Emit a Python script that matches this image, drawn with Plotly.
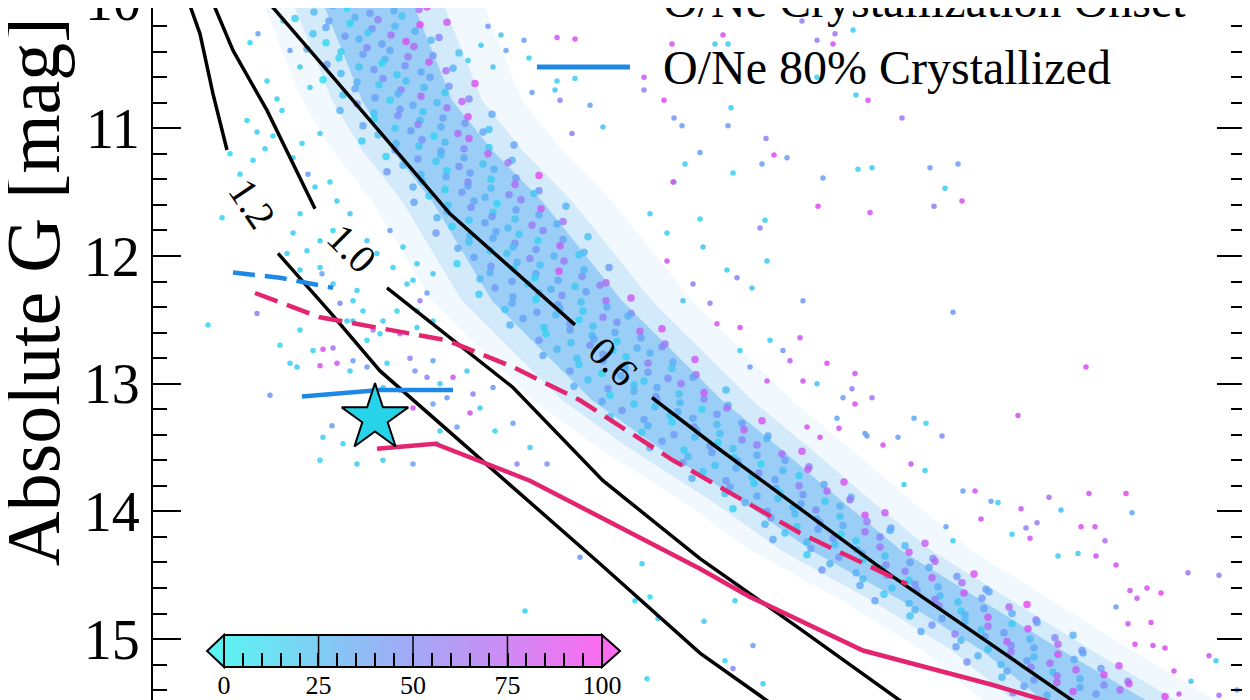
import plotly.graph_objects as go

# Gaia white dwarfs: BP-RP colour vs absolute G, coloured by crystallized fraction (%)
# dense part of the sequence
band_x = [
    -0.061, -0.029, -0.006, 0.017, 0.041, 0.065,
    -0.048, -0.015, 0.008, 0.032, 0.057,
    -0.067, -0.033, -0.007, 0.016, 0.040, 0.085,
    -0.036, -0.012, 0.010, 0.033, 0.058,
    -0.049, -0.017, 0.006, 0.029, 0.053, 0.077,
    -0.036, -0.003, 0.020, 0.044, 0.069,
    -0.055, -0.021, 0.005, 0.028, 0.052, 0.097,
    -0.023, 0.001, 0.023, 0.046, 0.071,
    -0.035, -0.003, 0.020, 0.043, 0.067, 0.091,
    -0.021, 0.012, 0.035, 0.059, 0.084,
    -0.039, -0.005, 0.021, 0.044, 0.068, 0.113,
    -0.007, 0.017, 0.039, 0.062, 0.087,
    -0.019, 0.013, 0.036, 0.059, 0.083, 0.107,
    -0.005, 0.028, 0.051, 0.075, 0.100,
    -0.022, 0.012, 0.038, 0.061, 0.085, 0.130,
    0.012, 0.036, 0.058, 0.081, 0.106,
    0.001, 0.033, 0.056, 0.079, 0.103, 0.127,
    0.016, 0.049, 0.072, 0.096, 0.121,
    0.000, 0.034, 0.060, 0.083, 0.107, 0.152,
    0.033, 0.057, 0.079, 0.102, 0.127,
    0.024, 0.056, 0.079, 0.102, 0.126, 0.150,
    0.041, 0.074, 0.097, 0.121, 0.146,
    0.025, 0.059, 0.085, 0.108, 0.132, 0.177,
    0.060, 0.084, 0.106, 0.129, 0.154,
    0.051, 0.083, 0.106, 0.129, 0.153, 0.177,
    0.067, 0.100, 0.123, 0.147, 0.172,
    0.052, 0.086, 0.112, 0.135, 0.159, 0.204,
    0.085, 0.109, 0.131, 0.154, 0.179,
    0.075, 0.107, 0.130, 0.153, 0.177, 0.201,
    0.090, 0.123, 0.146, 0.170, 0.195,
    0.074, 0.108, 0.134, 0.157, 0.181, 0.226,
    0.107, 0.131, 0.153, 0.176, 0.201,
    0.096, 0.128, 0.151, 0.174, 0.198, 0.222,
    0.112, 0.145, 0.168, 0.192, 0.217,
    0.095, 0.129, 0.155, 0.178, 0.202, 0.247,
    0.128, 0.152, 0.174, 0.197, 0.222,
    0.118, 0.150, 0.173, 0.196, 0.220, 0.244,
    0.133, 0.166, 0.189, 0.213, 0.238,
    0.117, 0.151, 0.177, 0.200, 0.224, 0.269,
    0.150, 0.174, 0.196, 0.219, 0.244,
    0.143, 0.175, 0.198, 0.221, 0.245, 0.269,
    0.161, 0.194, 0.217, 0.241, 0.266,
    0.148, 0.182, 0.208, 0.231, 0.255, 0.300,
    0.184, 0.208, 0.230, 0.253, 0.278,
    0.177, 0.209, 0.232, 0.255, 0.279, 0.303,
    0.195, 0.228, 0.251, 0.275, 0.300,
    0.181, 0.215, 0.241, 0.264, 0.288, 0.333,
    0.217, 0.241, 0.263, 0.286, 0.311,
    0.208, 0.240, 0.263, 0.286, 0.310, 0.334,
    0.226, 0.259, 0.282, 0.306, 0.331,
    0.212, 0.246, 0.272, 0.295, 0.319, 0.364,
    0.248, 0.272, 0.294, 0.317, 0.342,
    0.240, 0.272, 0.295, 0.318, 0.342, 0.366,
    0.260, 0.293, 0.316, 0.340, 0.365,
    0.248, 0.282, 0.308, 0.331, 0.355, 0.400,
    0.286, 0.310, 0.332, 0.355, 0.380,
    0.280, 0.312, 0.335, 0.358, 0.382, 0.406,
    0.300, 0.333, 0.356, 0.380, 0.405,
    0.288, 0.322, 0.348, 0.371, 0.395, 0.440,
    0.326, 0.350, 0.372, 0.395, 0.420,
    0.321, 0.353, 0.376, 0.399, 0.423, 0.447,
    0.341, 0.374, 0.397, 0.421, 0.446,
    0.330, 0.364, 0.390, 0.413, 0.437, 0.482,
    0.368, 0.392, 0.414, 0.437, 0.462,
    0.363, 0.395, 0.418, 0.441, 0.465, 0.489,
    0.383, 0.416, 0.439, 0.463, 0.488,
    0.371, 0.405, 0.431, 0.454, 0.478, 0.523,
    0.409, 0.433, 0.455, 0.478, 0.503,
    0.403, 0.435, 0.458, 0.481, 0.505, 0.529,
    0.423, 0.456, 0.479, 0.503, 0.528,
    0.411, 0.445, 0.471, 0.494, 0.518, 0.563,
    0.449, 0.473, 0.495, 0.518, 0.543,
    0.445, 0.477, 0.500, 0.523, 0.547, 0.571,
    0.468, 0.501, 0.524, 0.548, 0.573,
    0.460, 0.494, 0.520, 0.543, 0.567, 0.612,
    0.501, 0.525, 0.547, 0.570, 0.595,
    0.498, 0.530, 0.553, 0.576, 0.600, 0.624,
    0.522, 0.555, 0.578, 0.602, 0.627,
    0.513, 0.547, 0.573, 0.596, 0.620, 0.665,
    0.553, 0.577, 0.599, 0.622, 0.647,
    0.548, 0.580, 0.603, 0.626, 0.650, 0.674,
    0.570, 0.603, 0.626, 0.650, 0.675,
    0.559, 0.593, 0.619, 0.642, 0.666, 0.711,
    0.599, 0.623, 0.645, 0.668, 0.693,
    0.594, 0.626, 0.649, 0.672, 0.696, 0.720,
    0.616, 0.649, 0.672, 0.696, 0.721,
    0.605, 0.639, 0.665, 0.688, 0.712, 0.757,
    0.645, 0.669, 0.691, 0.714, 0.739,
    0.640, 0.672, 0.695, 0.718, 0.742, 0.766,
    0.662, 0.695, 0.718, 0.742, 0.767,
    0.651, 0.685, 0.711, 0.734, 0.758, 0.803,
]
band_y = [
    10.02, 10.04, 10.01, 10.03, 10.00, 10.05,
    10.09, 10.06, 10.10, 10.08, 10.07,
    10.14, 10.16, 10.13, 10.15, 10.12, 10.17,
    10.21, 10.18, 10.22, 10.20, 10.19,
    10.26, 10.28, 10.25, 10.27, 10.24, 10.29,
    10.33, 10.30, 10.34, 10.32, 10.31,
    10.38, 10.40, 10.37, 10.39, 10.36, 10.41,
    10.45, 10.42, 10.46, 10.44, 10.43,
    10.50, 10.52, 10.49, 10.51, 10.48, 10.53,
    10.57, 10.54, 10.58, 10.56, 10.55,
    10.62, 10.64, 10.61, 10.63, 10.60, 10.65,
    10.69, 10.66, 10.70, 10.68, 10.67,
    10.74, 10.76, 10.73, 10.75, 10.72, 10.77,
    10.81, 10.78, 10.82, 10.80, 10.79,
    10.86, 10.88, 10.85, 10.87, 10.84, 10.89,
    10.93, 10.90, 10.94, 10.92, 10.91,
    10.98, 11.00, 10.97, 10.99, 10.96, 11.01,
    11.05, 11.02, 11.06, 11.04, 11.03,
    11.10, 11.12, 11.09, 11.11, 11.08, 11.13,
    11.17, 11.14, 11.18, 11.16, 11.15,
    11.22, 11.24, 11.21, 11.23, 11.20, 11.25,
    11.29, 11.26, 11.30, 11.28, 11.27,
    11.34, 11.36, 11.33, 11.35, 11.32, 11.37,
    11.41, 11.38, 11.42, 11.40, 11.39,
    11.46, 11.48, 11.45, 11.47, 11.44, 11.49,
    11.53, 11.50, 11.54, 11.52, 11.51,
    11.58, 11.60, 11.57, 11.59, 11.56, 11.61,
    11.65, 11.62, 11.66, 11.64, 11.63,
    11.70, 11.72, 11.69, 11.71, 11.68, 11.73,
    11.77, 11.74, 11.78, 11.76, 11.75,
    11.82, 11.84, 11.81, 11.83, 11.80, 11.85,
    11.89, 11.86, 11.90, 11.88, 11.87,
    11.94, 11.96, 11.93, 11.95, 11.92, 11.97,
    12.01, 11.98, 12.02, 12.00, 11.99,
    12.06, 12.08, 12.05, 12.07, 12.04, 12.09,
    12.13, 12.10, 12.14, 12.12, 12.11,
    12.18, 12.20, 12.17, 12.19, 12.16, 12.21,
    12.25, 12.22, 12.26, 12.24, 12.23,
    12.30, 12.32, 12.29, 12.31, 12.28, 12.33,
    12.37, 12.34, 12.38, 12.36, 12.35,
    12.42, 12.44, 12.41, 12.43, 12.40, 12.45,
    12.49, 12.46, 12.50, 12.48, 12.47,
    12.54, 12.56, 12.53, 12.55, 12.52, 12.57,
    12.61, 12.58, 12.62, 12.60, 12.59,
    12.66, 12.68, 12.65, 12.67, 12.64, 12.69,
    12.73, 12.70, 12.74, 12.72, 12.71,
    12.78, 12.80, 12.77, 12.79, 12.76, 12.81,
    12.85, 12.82, 12.86, 12.84, 12.83,
    12.90, 12.92, 12.89, 12.91, 12.88, 12.93,
    12.97, 12.94, 12.98, 12.96, 12.95,
    13.02, 13.04, 13.01, 13.03, 13.00, 13.05,
    13.09, 13.06, 13.10, 13.08, 13.07,
    13.14, 13.16, 13.13, 13.15, 13.12, 13.17,
    13.21, 13.18, 13.22, 13.20, 13.19,
    13.26, 13.28, 13.25, 13.27, 13.24, 13.29,
    13.33, 13.30, 13.34, 13.32, 13.31,
    13.38, 13.40, 13.37, 13.39, 13.36, 13.41,
    13.45, 13.42, 13.46, 13.44, 13.43,
    13.50, 13.52, 13.49, 13.51, 13.48, 13.53,
    13.57, 13.54, 13.58, 13.56, 13.55,
    13.62, 13.64, 13.61, 13.63, 13.60, 13.65,
    13.69, 13.66, 13.70, 13.68, 13.67,
    13.74, 13.76, 13.73, 13.75, 13.72, 13.77,
    13.81, 13.78, 13.82, 13.80, 13.79,
    13.86, 13.88, 13.85, 13.87, 13.84, 13.89,
    13.93, 13.90, 13.94, 13.92, 13.91,
    13.98, 14.00, 13.97, 13.99, 13.96, 14.01,
    14.05, 14.02, 14.06, 14.04, 14.03,
    14.10, 14.12, 14.09, 14.11, 14.08, 14.13,
    14.17, 14.14, 14.18, 14.16, 14.15,
    14.22, 14.24, 14.21, 14.23, 14.20, 14.25,
    14.29, 14.26, 14.30, 14.28, 14.27,
    14.34, 14.36, 14.33, 14.35, 14.32, 14.37,
    14.41, 14.38, 14.42, 14.40, 14.39,
    14.46, 14.48, 14.45, 14.47, 14.44, 14.49,
    14.53, 14.50, 14.54, 14.52, 14.51,
    14.58, 14.60, 14.57, 14.59, 14.56, 14.61,
    14.65, 14.62, 14.66, 14.64, 14.63,
    14.70, 14.72, 14.69, 14.71, 14.68, 14.73,
    14.77, 14.74, 14.78, 14.76, 14.75,
    14.82, 14.84, 14.81, 14.83, 14.80, 14.85,
    14.89, 14.86, 14.90, 14.88, 14.87,
    14.94, 14.96, 14.93, 14.95, 14.92, 14.97,
    15.01, 14.98, 15.02, 15.00, 14.99,
    15.06, 15.08, 15.05, 15.07, 15.04, 15.09,
    15.13, 15.10, 15.14, 15.12, 15.11,
    15.18, 15.20, 15.17, 15.19, 15.16, 15.21,
    15.25, 15.22, 15.26, 15.24, 15.23,
    15.30, 15.32, 15.29, 15.31, 15.28, 15.33,
    15.37, 15.34, 15.38, 15.36, 15.35,
    15.42, 15.44, 15.41, 15.43, 15.40, 15.45,
]
band_c = [
    10, 35, 20, 80, 45, 90,
    25, 5, 45, 30, 70,
    15, 40, 30, 60, 20, 85,
    35, 10, 50, 25, 95,
    20, 45, 15, 70, 30, 55,
    8, 30, 40, 90, 25,
    30, 15, 55, 35, 75, 20,
    12, 40, 28, 65, 45,
    40, 20, 10, 50, 85, 30,
    25, 45, 15, 35, 70,
    5, 30, 50, 20, 40, 90,
    35, 15, 60, 25, 45,
    20, 40, 30, 75, 15, 55,
    45, 10, 35, 25, 80,
    30, 20, 45, 15, 65, 35,
    10, 50, 25, 40, 90,
    35, 15, 60, 30, 45, 20,
    25, 40, 10, 70, 35,
    15, 30, 50, 25, 85, 40,
    40, 20, 35, 55, 15,
    10, 45, 25, 35, 80, 30,
    30, 15, 50, 20, 65,
    45, 25, 10, 40, 30, 95,
    20, 35, 60, 15, 45,
    35, 10, 40, 25, 75, 50,
    15, 45, 30, 55, 20,
    40, 20, 35, 10, 60, 30,
    25, 50, 15, 40, 85,
    30, 15, 45, 20, 35, 70,
    10, 40, 25, 65, 30,
    45, 25, 35, 15, 55, 20,
    20, 35, 50, 10, 40,
    35, 15, 25, 45, 80, 30,
    40, 20, 55, 30, 15,
    10, 45, 30, 20, 65, 40,
    30, 15, 40, 90, 25,
    25, 40, 10, 35, 50, 75,
    45, 20, 30, 15, 60,
    15, 35, 25, 50, 40, 85,
    35, 10, 45, 20, 70,
    20, 45, 30, 15, 35, 55,
    40, 25, 10, 60, 30,
    30, 15, 45, 20, 50, 90,
    10, 40, 25, 35, 80,
    45, 20, 35, 15, 40, 65,
    25, 50, 10, 30, 55,
    35, 20, 45, 15, 30, 85,
    15, 40, 25, 60, 35,
    40, 10, 30, 45, 20, 75,
    20, 35, 15, 50, 40,
    30, 45, 20, 35, 65, 25,
    10, 30, 45, 20, 85,
    35, 15, 40, 25, 55, 30,
    45, 20, 30, 10, 70,
    20, 40, 15, 35, 45, 90,
    30, 10, 50, 25, 40,
    15, 45, 30, 20, 80, 35,
    40, 25, 10, 55, 30,
    35, 15, 45, 20, 60, 85,
    25, 40, 15, 35, 70,
    45, 20, 35, 10, 40, 55,
    15, 30, 50, 25, 80,
    30, 45, 20, 40, 15, 90,
    40, 15, 30, 60, 35,
    20, 35, 10, 45, 75, 30,
    35, 20, 40, 15, 65,
    10, 40, 25, 50, 30, 85,
    45, 25, 35, 20, 90,
    30, 15, 45, 35, 60, 40,
    20, 40, 10, 70, 30,
    35, 25, 45, 15, 55, 80,
    40, 20, 30, 65, 25,
    15, 45, 35, 20, 85, 50,
    30, 10, 55, 40, 75,
    45, 30, 20, 60, 35, 90,
    25, 40, 15, 80, 45,
    35, 20, 50, 30, 70, 40,
    15, 45, 25, 85, 35,
    40, 25, 60, 20, 45, 95,
    30, 55, 15, 40, 75,
    20, 40, 30, 85, 35, 60,
    45, 25, 70, 15, 40,
    35, 60, 20, 45, 90, 30,
    25, 40, 80, 30, 55,
    40, 20, 55, 35, 75, 45,
    30, 65, 25, 90, 40,
    50, 25, 40, 70, 35, 85,
    35, 60, 20, 80, 45,
    25, 45, 70, 30, 90, 55,
    40, 75, 35, 55, 85,
    60, 30, 85, 45, 70, 95,
]

# scattered stars around the sequence: (BP-RP, M_G, crystallized %)
field_upper = [
    (0.195, 10.29, 85), (0.213, 10.30, 90), (0.162, 10.31, 40), (0.126, 10.20, 45),
    (0.139, 10.27, 20), (0.144, 10.39, 40), (0.106, 10.47, 15), (0.119, 10.35, 15),
    (0.167, 10.45, 15), (0.131, 10.52, 20), (0.310, 10.34, 90), (0.361, 10.27, 90),
    (0.353, 10.34, 20), (0.366, 10.34, 15), (0.440, 10.16, 60), (0.473, 10.26, 65),
    (0.455, 10.31, 60), (0.471, 10.34, 85), (0.491, 10.23, 15), (0.195, 10.63, 15),
    (0.213, 10.61, 15), (0.193, 10.70, 20), (0.198, 10.78, 60), (0.170, 10.72, 40),
    (0.282, 10.60, 85), (0.282, 10.70, 60), (0.302, 10.78, 90), (0.312, 10.92, 45),
    (0.320, 10.98, 40), (0.369, 10.84, 15), (0.366, 10.98, 45), (0.455, 10.60, 15),
    (0.506, 10.78, 90), (0.494, 10.74, 15), (0.540, 10.92, 65), (0.404, 11.08, 60),
    (0.412, 11.21, 90), (0.425, 11.23, 40), (0.338, 11.19, 40), (0.323, 11.28, 15),
    (0.568, 11.31, 45), (0.596, 11.28, 40), (0.583, 11.47, 15), (0.312, 11.42, 20),
    (0.241, 10.99, 20), (0.228, 10.82, 40), (0.210, 11.04, 60),
]
field_right = [
    (0.496, 11.32, 10), (0.510, 11.31, 15), (0.461, 11.39, 40), (0.456, 11.61, 90),
    (0.508, 11.66, 85), (0.371, 11.35, 10), (0.400, 11.28, 40), (0.311, 11.42, 90),
    (0.338, 11.71, 10), (0.403, 11.72, 15), (0.398, 11.78, 60), (0.341, 11.93, 20),
    (0.365, 12.11, 15), (0.375, 12.17, 55), (0.405, 12.04, 15), (0.390, 12.25, 20),
    (0.441, 12.35, 45), (0.378, 12.56, 90), (0.408, 12.66, 15), (0.438, 12.64, 85),
    (0.421, 12.74, 45), (0.465, 12.84, 90), (0.428, 12.82, 80), (0.441, 12.98, 85),
    (0.455, 13.00, 20), (0.493, 12.92, 85), (0.481, 13.11, 40), (0.510, 13.11, 65),
    (0.493, 13.16, 90), (0.475, 13.27, 35), (0.505, 13.41, 40), (0.521, 13.48, 90),
    (0.458, 13.42, 90), (0.445, 13.34, 85), (0.405, 12.98, 85), (0.388, 12.87, 45),
    (0.378, 12.74, 15), (0.355, 12.53, 85), (0.348, 12.37, 60), (0.321, 12.35, 20),
    (0.331, 12.22, 60), (0.305, 12.04, 85), (0.305, 11.82, 15), (0.288, 11.67, 15),
    (0.600, 11.57, 90), (0.572, 11.61, 60), (0.591, 12.44, 45), (0.724, 12.87, 90),
    (0.490, 13.04, 60), (0.536, 13.42, 40),
]
field_lower_right = [
    (0.656, 13.25, 90), (0.552, 13.27, 35), (0.564, 13.31, 10), (0.580, 13.41, 50),
    (0.727, 13.86, 85), (0.764, 13.86, 95), (0.687, 13.89, 70), (0.699, 13.99, 20),
    (0.770, 14.01, 35), (0.659, 13.98, 80), (0.636, 13.93, 15), (0.719, 14.12, 90),
    (0.733, 14.12, 85), (0.743, 14.23, 70), (0.675, 14.09, 60), (0.664, 14.13, 55),
    (0.754, 14.42, 90), (0.734, 14.35, 85), (0.696, 14.35, 15), (0.716, 14.33, 20),
    (0.826, 14.48, 65), (0.857, 14.50, 60), (0.785, 14.60, 90), (0.799, 14.64, 95),
    (0.768, 14.62, 85), (0.775, 14.68, 80), (0.754, 14.75, 40), (0.789, 14.87, 90),
    (0.766, 14.88, 85), (0.773, 15.04, 95), (0.791, 15.05, 85), (0.803, 15.07, 90),
    (0.847, 15.13, 85), (0.854, 15.17, 15), (0.812, 15.25, 90), (0.829, 15.33, 20),
    (0.817, 15.43, 85), (0.857, 15.44, 70), (0.875, 15.40, 40), (0.601, 13.84, 40),
    (0.613, 13.84, 85), (0.619, 14.06, 85), (0.629, 13.92, 40), (0.542, 13.79, 15),
    (0.549, 13.63, 85), (0.563, 13.68, 15), (0.477, 13.35, 85), (0.503, 13.39, 40),
    (0.584, 14.12, 40), (0.591, 14.23, 15), (0.650, 14.18, 15), (0.668, 14.21, 85),
]
field_lower_left = [
    (0.373, 14.70, 15), (0.391, 15.05, 40), (0.363, 15.17, 10), (0.371, 15.23, 55),
    (0.401, 15.35, 15), (0.342, 14.86, 15), (0.163, 14.78, 10), (0.218, 14.36, 45),
    (0.280, 14.41, 15), (0.273, 14.70, 10), (0.288, 14.67, 5), (0.296, 14.84, 20),
    (0.285, 15.31, 10),
]
field_left = [
    (-0.112, 10.33, 10), (-0.104, 10.26, 40), (-0.095, 10.63, 10), (-0.085, 10.77, 15),
    (-0.080, 10.86, 10), (-0.115, 10.94, 10), (-0.105, 11.03, 15), (-0.089, 11.06, 10),
    (-0.097, 11.16, 15), (-0.109, 11.25, 10), (-0.132, 11.20, 5), (-0.122, 11.36, 10),
    (-0.069, 11.23, 15), (-0.060, 11.12, 10), (-0.042, 11.04, 15), (-0.054, 11.36, 40),
    (-0.047, 11.46, 15), (-0.032, 11.42, 10), (-0.025, 11.57, 15), (-0.012, 11.67, 20),
    (-0.029, 11.80, 10), (-0.042, 11.88, 15), (-0.062, 11.67, 10), (-0.069, 11.82, 15),
    (-0.075, 11.98, 10), (-0.062, 12.11, 15), (-0.040, 12.14, 40), (-0.029, 12.22, 15),
    (-0.009, 12.35, 15), (0.001, 12.43, 10), (-0.015, 12.51, 15), (0.011, 12.58, 55),
    (0.021, 12.51, 15), (0.038, 12.61, 85), (0.055, 12.43, 15), (0.065, 12.29, 40),
    (0.045, 12.22, 15), (0.031, 12.09, 10), (0.015, 11.98, 15), (0.005, 11.88, 20),
    (0.028, 11.80, 40), (0.041, 11.93, 15), (0.055, 12.06, 15), (0.071, 12.14, 20),
    (-0.140, 11.70, 10), (-0.105, 12.45, 60), (-0.154, 12.54, 10), (-0.052, 10.68, 15),
    (-0.062, 10.52, 15), (-0.072, 10.39, 40), (-0.079, 10.16, 10),
]
field_mid = [
    (-0.092, 13.09, 45), (-0.082, 12.70, 10), (-0.072, 12.84, 15), (-0.062, 12.58, 10),
    (-0.065, 12.87, 15), (-0.039, 12.73, 90), (-0.029, 12.72, 65), (-0.042, 12.86, 90),
    (-0.049, 12.74, 15), (-0.025, 12.84, 85), (-0.009, 12.82, 40), (-0.012, 12.90, 15),
    (0.005, 12.66, 10), (0.018, 12.61, 15), (0.005, 12.87, 45), (0.025, 12.84, 10),
    (0.021, 13.03, 15), (0.038, 13.05, 85), (0.048, 12.80, 60), (0.053, 12.90, 45),
    (0.065, 12.95, 60), (0.071, 12.82, 40), (0.078, 13.00, 15), (0.085, 13.11, 45),
    (0.091, 12.95, 85), (0.105, 12.90, 15), (0.111, 13.08, 60), (0.131, 13.03, 45),
    (0.118, 13.19, 15), (0.108, 13.23, 85), (0.051, 13.19, 85), (0.071, 13.16, 40),
    (0.078, 13.37, 15), (0.095, 13.34, 40), (0.075, 13.47, 15), (0.133, 13.37, 10),
    (0.151, 13.31, 40), (0.168, 13.50, 15), (0.155, 13.63, 55), (0.185, 13.63, 45),
    (-0.042, 13.60, 10), (-0.030, 13.33, 40), (-0.039, 13.42, 15), (-0.019, 13.47, 10),
    (-0.005, 13.63, 15), (0.021, 13.60, 15), (0.051, 13.63, 40), (0.035, 12.43, 10),
    (0.058, 12.35, 60), (0.055, 12.56, 15), (0.071, 12.51, 10), (0.051, 12.19, 15),
    (-0.005, 12.27, 15), (-0.022, 12.37, 55), (-0.009, 12.51, 15), (-0.055, 11.96, 15),
    (-0.042, 12.09, 10),
]

# outline of the crowded part of the sequence (halo / main / core)
band_edge_mag = [10.00, 10.39, 10.78, 11.17, 11.57, 11.96, 12.35, 12.74,
                 13.13, 13.52, 13.92, 14.31, 14.70, 15.09, 15.60]
band_halo_blue = [-0.10, -0.08, -0.06, -0.03, 0.01, 0.04, 0.07, 0.12,
                  0.17, 0.24, 0.32, 0.39, 0.48, 0.56, 0.64]
band_halo_red = [0.12, 0.14, 0.16, 0.20, 0.25, 0.29, 0.33, 0.38,
                 0.43, 0.49, 0.55, 0.61, 0.69, 0.77, 0.88]
band_edge_blue = [-0.07, -0.05, -0.03, 0.00, 0.04, 0.07, 0.10, 0.15,
                  0.20, 0.27, 0.35, 0.42, 0.51, 0.59, 0.67]
band_edge_red = [0.08, 0.10, 0.12, 0.16, 0.21, 0.25, 0.29, 0.34,
                 0.39, 0.45, 0.51, 0.57, 0.65, 0.73, 0.84]
band_core_blue = [-0.04, -0.02, 0.00, 0.03, 0.07, 0.10, 0.13, 0.18,
                  0.23, 0.30, 0.38, 0.45, 0.54, 0.62, 0.70]
band_core_red = [0.05, 0.07, 0.09, 0.13, 0.18, 0.22, 0.26, 0.31,
                 0.36, 0.42, 0.48, 0.54, 0.62, 0.70, 0.81]

# cooling tracks (None leaves room for the inline mass label)
track_12_x = [-0.174, -0.172, -0.162, -0.149, -0.135, None, -0.084, -0.032, 0.018, 0.143, 0.238, 0.338, 0.405, 0.428]
track_12_y = [9.92, 10.04, 10.26, 10.73, 11.17, None, 11.98, 12.44, 12.90, 13.76, 14.41, 15.11, 15.48, 15.61]
track_10_x = [-0.153, -0.150, -0.129, -0.095, -0.047, None, 0.025, 0.151, 0.241, 0.338, 0.438, 0.538, 0.568]
track_10_y = [9.92, 10.00, 10.39, 10.86, 11.63, None, 12.25, 13.03, 13.76, 14.37, 14.92, 15.48, 15.65]
track_06_x = [-0.103, -0.095, -0.029, 0.088, 0.213, None, 0.290, 0.355, 0.525, 0.711, 0.738]
track_06_y = [9.92, 10.00, 10.60, 11.67, 12.54, None, 13.11, 13.50, 14.48, 15.48, 15.63]

# crystallization boundaries
co_onset_x = [-0.107, -0.042, 0.085, 0.151, 0.218, 0.311, 0.338, 0.438, 0.545]
co_onset_y = [12.29, 12.48, 12.66, 12.87, 13.13, 13.60, 13.72, 14.17, 14.57]
co_80_x = [0.015, 0.073, 0.168, 0.338, 0.388, 0.501, 0.631, 0.681, 0.738]
co_80_y = [13.51, 13.47, 13.76, 14.45, 14.67, 15.09, 15.36, 15.48, 15.61]
one_onset_x = [-0.129, -0.082, -0.029]
one_onset_y = [12.13, 12.17, 12.25]
one_80_x = [-0.060, 0.018, 0.091]
one_80_y = [13.10, 13.05, 13.05]

star_x = [0.013]
star_y = [13.27]

track_labels = ['1.2', '1.0', '0.6']
track_label_x = [-0.110, -0.010, 0.251]
track_label_y = [11.59, 11.94, 12.83]
track_label_angle = [56, 45, 45]

legend_names = ['O/Ne Crystallization Onset', 'O/Ne 80% Crystallized']
cbar_ticks = [0, 5, 10, 15, 20, 25, 30, 35, 40, 45, 50, 55, 60, 65, 70, 75, 80, 85, 90, 95, 100]
cbar_labels = ['0', '', '', '', '', '25', '', '', '', '', '50', '', '', '', '', '75', '', '', '', '', '100']

assert len(band_x) == len(band_y) == len(band_c)

FONT = 'Liberation Serif'
PINK = '#e3256f'
BLUE = '#1e88e5'
POINT_SCALE = [[0, '#1ee6f0'], [0.5, '#7b8ef8'], [1, '#f23cf0']]
BAR_SCALE = [[0, '#5cf2f2'], [0.5, '#a3a8f6'], [1, '#fb6cf0']]

field = field_upper + field_right + field_lower_right + field_lower_left + field_left + field_mid

fig = go.Figure()

for lo, hi, alpha in [(band_halo_blue, band_halo_red, 0.07),
                      (band_edge_blue, band_edge_red, 0.18),
                      (band_core_blue, band_core_red, 0.40)]:
    fig.add_trace(go.Scatter(
        x=lo + hi[::-1], y=band_edge_mag + band_edge_mag[::-1],
        fill='toself', fillcolor=f'rgba(70,165,240,{alpha})',
        mode='lines', line=dict(width=0), hoverinfo='skip',
    ))

fig.add_trace(go.Scatter(
    x=band_x, y=band_y, mode='markers',
    marker=dict(size=7.5, color=band_c, cmin=0, cmax=100, colorscale=POINT_SCALE, opacity=0.8),
    hoverinfo='skip',
))
fig.add_trace(go.Scatter(
    x=[p[0] for p in field], y=[p[1] for p in field], mode='markers',
    marker=dict(size=5.5, color=[p[2] for p in field], cmin=0, cmax=100,
                colorscale=POINT_SCALE, opacity=0.85),
    hoverinfo='skip',
))

for tx, ty in [(track_12_x, track_12_y), (track_10_x, track_10_y), (track_06_x, track_06_y)]:
    fig.add_trace(go.Scatter(x=tx, y=ty, mode='lines', line=dict(color='black', width=3.5), hoverinfo='skip'))

fig.add_trace(go.Scatter(x=co_onset_x, y=co_onset_y, mode='lines',
                         line=dict(color=PINK, width=4.5, dash='24px,10px'), hoverinfo='skip'))
fig.add_trace(go.Scatter(x=co_80_x, y=co_80_y, mode='lines',
                         line=dict(color=PINK, width=4.5), hoverinfo='skip'))
fig.add_trace(go.Scatter(x=one_onset_x, y=one_onset_y, mode='lines',
                         line=dict(color=BLUE, width=4.5, dash='22px,10px'), hoverinfo='skip'))
fig.add_trace(go.Scatter(x=one_80_x, y=one_80_y, mode='lines',
                         line=dict(color=BLUE, width=4.5), hoverinfo='skip'))

fig.add_trace(go.Scatter(x=star_x, y=star_y, mode='markers',
                         marker=dict(symbol='star', size=50, color='#27d3e8',
                                     line=dict(color='black', width=2)),
                         hoverinfo='skip'))

# colour bar drawn as a small heatmap on its own axes
fig.add_trace(go.Heatmap(x=cbar_ticks, y=[0, 1], z=[cbar_ticks, cbar_ticks], zmin=0, zmax=100,
                         zsmooth='best', colorscale=BAR_SCALE, showscale=False,
                         xaxis='x2', yaxis='y2', hoverinfo='skip'))

for lab, lx, ly, ang in zip(track_labels, track_label_x, track_label_y, track_label_angle):
    fig.add_annotation(x=lx, y=ly, text=lab, textangle=ang, showarrow=False,
                       font=dict(family=FONT, size=40, color='black'))

# y axis title (the figure is cropped, so it sits above the middle)
fig.add_annotation(xref='paper', yref='paper', x=-0.1099, y=0.5954, text='Absolute G [mag]',
                   textangle=-90, showarrow=False, xanchor='center', yanchor='middle',
                   font=dict(family=FONT, size=76, color='black'))
# the "10" tick label sits just past the top of the crop
fig.add_annotation(xref='paper', yref='paper', x=-0.009, y=1.0106, text='10', showarrow=False,
                   xanchor='right', yanchor='middle', font=dict(family=FONT, size=56, color='black'))

# legend, drawn by hand; its upper rows fall outside the crop
legend_y = [1.0100, 0.9157]
legend_dash = ['22px,9px', 'solid']
shapes = []
for name, ly, dash in zip(legend_names, legend_y, legend_dash):
    shapes.append(dict(type='line', xref='paper', yref='paper', x0=0.3516, x1=0.4368, y0=ly, y1=ly,
                       line=dict(color=BLUE, width=5, dash=dash)))
    fig.add_annotation(xref='paper', yref='paper', x=0.4652, y=ly, text=name, showarrow=False,
                       xanchor='left', yanchor='middle', font=dict(family=FONT, size=48, color='black'))

# colour bar frame, full-height major ticks and the extend triangles
shapes.append(dict(type='rect', xref='paper', yref='paper', x0=0.0650, x1=0.4112, y0=0.0585, y1=0.1043,
                   line=dict(color='black', width=2)))
for px in [0.1516, 0.2381, 0.3246]:
    shapes.append(dict(type='line', xref='paper', yref='paper', x0=px, x1=px, y0=0.0585, y1=0.1043,
                       line=dict(color='black', width=1.5)))
shapes.append(dict(type='path', xref='paper', yref='paper',
                   path='M 0.0650 0.1043 L 0.0495 0.0814 L 0.0650 0.0585 Z',
                   fillcolor='#5cf2f2', line=dict(color='black', width=2)))
shapes.append(dict(type='path', xref='paper', yref='paper',
                   path='M 0.4112 0.1043 L 0.4277 0.0814 L 0.4112 0.0585 Z',
                   fillcolor='#fb6cf0', line=dict(color='black', width=2)))

# the page keeps an 8 px body margin, so the plot area is laid out 8 px up/left
fig.update_layout(
    width=1250, height=700,
    margin=dict(l=145, r=13, t=0, b=0),
    paper_bgcolor='white', plot_bgcolor='white',
    showlegend=False,
    shapes=shapes,
    xaxis=dict(range=[-0.209, 0.883], visible=False),
    yaxis=dict(
        range=[15.540, 10.058], tickmode='linear', tick0=10, dtick=1,
        ticks='inside', ticklen=28, tickwidth=2, tickcolor='black',
        showline=True, linewidth=2, linecolor='black', mirror='allticks',
        minor=dict(dtick=0.2, ticks='inside', ticklen=14, tickwidth=2, tickcolor='black'),
        tickfont=dict(family=FONT, size=56, color='black'), ticklabelstandoff=0,
        showgrid=False, zeroline=False, automargin=False,
    ),
    xaxis2=dict(domain=[0.0650, 0.4112], anchor='y2', range=[0, 100],
                tickmode='array', tickvals=cbar_ticks, ticktext=cbar_labels,
                ticks='inside', ticklen=14, tickwidth=1.5, tickcolor='black',
                tickfont=dict(family=FONT, size=26, color='black'), ticklabelstandoff=0,
                showgrid=False, zeroline=False, showline=False, automargin=False),
    yaxis2=dict(domain=[0.0585, 0.1043], anchor='x2', range=[0, 1], visible=False),
)

fig.write_html('out.html')
